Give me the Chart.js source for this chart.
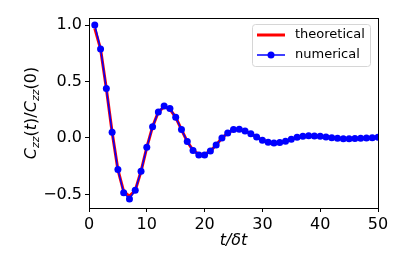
<!DOCTYPE html>
<html>
<head>
<meta charset="utf-8">
<script src="https://cdn.jsdelivr.net/npm/chart.js@4.4.0/dist/chart.umd.min.js"></script>
<style>
  html, body { margin: 0; padding: 0; background: #fff; }
  #wrap { width: 407px; height: 271px; }
</style>
</head>
<body>
<div id="wrap"><canvas id="chart" width="407" height="271"></canvas></div>
<script>
// time steps t/δt and normalised correlation values
const steps = [1, 2, 3, 4, 5, 6, 7, 8, 9, 10, 11, 12, 13, 14, 15, 16, 17, 18, 19, 20,
    21, 22, 23, 24, 25, 26, 27, 28, 29, 30, 31, 32, 33, 34, 35, 36, 37, 38, 39, 40,
    41, 42, 43, 44, 45, 46, 47, 48, 49, 50];

const numerical = [1.0, 0.788, 0.437, 0.05, -0.28, -0.484, -0.54, -0.463, -0.295, -0.083,
    0.10, 0.23, 0.283, 0.26, 0.183, 0.074, -0.032, -0.11, -0.15, -0.15,
    -0.115, -0.062, 0.0, 0.044, 0.074, 0.077, 0.062, 0.038, 0.009, -0.02,
    -0.038, -0.044, -0.041, -0.03, -0.012, 0.006, 0.015, 0.02, 0.018, 0.015,
    0.009, 0.003, -0.003, -0.006, -0.006, -0.005, -0.003, 0.0, 0.003, 0.006];

const theoretical = [0.97, 0.788, 0.437, 0.05, -0.28, -0.475, -0.515, -0.465, -0.295, -0.083,
    0.10, 0.23, 0.275, 0.255, 0.183, 0.074, -0.032, -0.11, -0.145, -0.145,
    -0.115, -0.062, 0.0, 0.044, 0.072, 0.075, 0.062, 0.038, 0.009, -0.02,
    -0.038, -0.043, -0.041, -0.03, -0.012, 0.006, 0.015, 0.019, 0.018, 0.015,
    0.009, 0.003, -0.003, -0.005, -0.006, -0.005, -0.003, 0.0, 0.003, 0.006];

const xTicks = [0, 10, 20, 30, 40, 50];
const yTicks = [-0.5, 0.0, 0.5, 1.0];

const FONT = '"DejaVu Sans", sans-serif';

function toPoints(ys) {
    return steps.map((t, i) => ({ x: t, y: ys[i] }));
}

function fmtTick(v) {
    return v.toFixed(1).replace('-', '\u2212');
}

// box around the axes, the two axis titles and the legend
const decorations = {
    id: 'decorations',
    afterDraw(chart) {
        const ctx = chart.ctx;
        const a = chart.chartArea;
        ctx.save();
        ctx.strokeStyle = '#000';
        ctx.lineWidth = 1;
        ctx.strokeRect(Math.round(a.left) + 0.5, Math.round(a.top) + 0.5,
            Math.round(a.right - a.left), Math.round(a.bottom - a.top));

        // x title
        ctx.fillStyle = '#000';
        ctx.textAlign = 'center';
        ctx.textBaseline = 'middle';
        ctx.font = 'italic 16px ' + FONT;
        ctx.fillText('t/\u03b4t', (a.left + a.right) / 2, 241);

        // y title with subscripts: C_zz(t)/C_zz(0)
        const parts = [
            { s: 'C', f: 'italic 16px ' + FONT, dy: 0 },
            { s: 'zz', f: 'italic 11px ' + FONT, dy: 3 },
            { s: '(', f: '16px ' + FONT, dy: 0 },
            { s: 't', f: 'italic 16px ' + FONT, dy: 0 },
            { s: ')/', f: '16px ' + FONT, dy: 0 },
            { s: 'C', f: 'italic 16px ' + FONT, dy: 0 },
            { s: 'zz', f: 'italic 11px ' + FONT, dy: 3 },
            { s: '(0)', f: '16px ' + FONT, dy: 0 }
        ];
        let total = 0;
        parts.forEach(p => { ctx.font = p.f; p.w = ctx.measureText(p.s).width; total += p.w; });
        ctx.translate(36, (a.top + a.bottom) / 2);
        ctx.rotate(-Math.PI / 2);
        ctx.textAlign = 'left';
        ctx.textBaseline = 'alphabetic';
        let x = -total / 2;
        parts.forEach(p => {
            ctx.font = p.f;
            ctx.fillText(p.s, x, p.dy);
            x += p.w;
        });
        ctx.restore();

        // legend
        ctx.save();
        const lx = 252.5, ly = 24.5, lw = 118, lh = 42;
        ctx.beginPath();
        ctx.roundRect(lx, ly, lw, lh, 3);
        ctx.fillStyle = 'rgba(255,255,255,0.8)';
        ctx.fill();
        ctx.strokeStyle = '#d6d6d6';
        ctx.lineWidth = 1;
        ctx.stroke();

        ctx.beginPath();
        ctx.moveTo(257, 35);
        ctx.lineTo(285, 35);
        ctx.strokeStyle = '#ff0000';
        ctx.lineWidth = 3;
        ctx.stroke();

        ctx.beginPath();
        ctx.moveTo(257, 55);
        ctx.lineTo(285, 55);
        ctx.strokeStyle = '#0000ff';
        ctx.lineWidth = 1.5;
        ctx.stroke();
        ctx.beginPath();
        ctx.arc(271, 55, 3.5, 0, Math.PI * 2);
        ctx.fillStyle = '#0000ff';
        ctx.fill();

        ctx.fillStyle = '#000';
        ctx.font = '13px ' + FONT;
        ctx.textAlign = 'left';
        ctx.textBaseline = 'middle';
        ctx.fillText('theoretical', 295, 35);
        ctx.fillText('numerical', 295, 55);
        ctx.restore();
    }
};

new Chart(document.getElementById('chart').getContext('2d'), {
    type: 'line',
    data: {
        datasets: [
            {
                label: 'numerical',
                data: toPoints(numerical),
                borderColor: '#0000ff',
                backgroundColor: '#0000ff',
                borderWidth: 1.5,
                pointRadius: 3.5,
                pointBorderWidth: 0,
                pointBackgroundColor: '#0000ff',
                tension: 0,
                order: 0
            },
            {
                label: 'theoretical',
                data: toPoints(theoretical),
                borderColor: '#ff0000',
                borderWidth: 3,
                pointRadius: 0,
                tension: 0,
                order: 1
            }
        ]
    },
    options: {
        responsive: false,
        animation: false,
        events: [],
        layout: { padding: { top: 18, right: 29, left: 0, bottom: 0 } },
        plugins: {
            legend: { display: false },
            tooltip: { enabled: false }
        },
        scales: {
            x: {
                type: 'linear',
                min: 0,
                max: 50,
                afterFit(scale) { scale.height = 63; },
                afterBuildTicks(scale) { scale.ticks = xTicks.map(v => ({ value: v })); },
                grid: { drawOnChartArea: false, drawTicks: true, tickLength: 4, color: '#000' },
                border: { display: true, color: '#000' },
                ticks: {
                    color: '#000',
                    padding: 3,
                    maxRotation: 0,
                    font: { family: FONT, size: 16 },
                    callback: v => String(v)
                }
            },
            y: {
                type: 'linear',
                min: -0.62,
                max: 1.062,
                afterFit(scale) { scale.width = 89; },
                afterBuildTicks(scale) { scale.ticks = yTicks.map(v => ({ value: v })); },
                grid: { drawOnChartArea: false, drawTicks: true, tickLength: 4, color: '#000' },
                border: { display: true, color: '#000' },
                ticks: {
                    color: '#000',
                    padding: 3,
                    font: { family: FONT, size: 16 },
                    callback: v => fmtTick(v)
                }
            }
        }
    },
    plugins: [decorations]
});
</script>
</body>
</html>
